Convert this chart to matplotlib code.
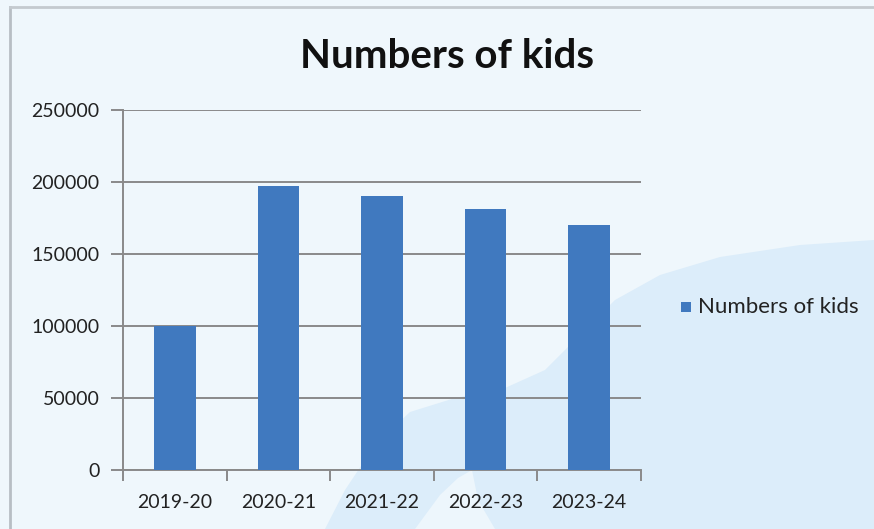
import matplotlib
matplotlib.use("Agg")
import matplotlib.pyplot as plt
from matplotlib.patches import Polygon, Rectangle
import numpy as np

categories = ["2019-20", "2020-21", "2021-22", "2022-23", "2023-24"]
values = [100000, 197000, 190000, 181000, 170000]
yticks = [0, 50000, 100000, 150000, 200000, 250000]
series_name = "Numbers of kids"
title = "Numbers of kids"

FONT = ["Lato", "DejaVu Sans"]
plt.rcParams['font.family'] = FONT

W, H = 874, 529
fig = plt.figure(figsize=(W / 100, H / 100), dpi=100)
bg = "#eff7fc"
fig.patch.set_facecolor(bg)

# background axes in pixel coordinates
bax = fig.add_axes([0, 0, 1, 1], zorder=-1)
bax.set_xlim(0, W)
bax.set_ylim(H, 0)
bax.axis("off")
swoosh = [(325, 529), (345, 490), (375, 445), (410, 412), (455, 398), (505, 388),
          (545, 370), (580, 335), (615, 300), (660, 275), (720, 257), (800, 245),
          (874, 240), (874, 529)]
bax.add_patch(Polygon(swoosh, closed=True, facecolor="#dcedfa", edgecolor="none"))
tooth = [(415, 529), (440, 495), (458, 478), (472, 470), (478, 500), (495, 529)]
bax.add_patch(Polygon(tooth, closed=True, facecolor="#edf6fc", edgecolor="none"))
bax.plot([10, 10], [7, 529], color="#b8bec4", lw=2)
bax.plot([10, 874], [7, 7], color="#c4cacf", lw=2)

left, right, bottom, top = 123, 641, 470, 110
ax = fig.add_axes([left / W, 1 - bottom / H, (right - left) / W, (bottom - top) / H], zorder=1)
ax.patch.set_alpha(0)

x = np.arange(len(categories))
ax.bar(x, values, width=0.4, color="#4079bf", zorder=3, label=series_name)
ax.set_xlim(-0.5, len(categories) - 0.5)
ax.set_ylim(0, 250000)
ax.set_yticks(yticks)
ax.set_yticklabels([str(v) for v in yticks], fontsize=14, color="#222222")
ax.yaxis.grid(True, color="#8a8a8a", lw=1.4, zorder=1)
ax.set_axisbelow(True)
for s in ["top", "right"]:
    ax.spines[s].set_visible(False)
ax.spines["left"].set_color("#8a8a8a")
ax.spines["left"].set_linewidth(1.4)
ax.spines["bottom"].set_color("#8a8a8a")
ax.spines["bottom"].set_linewidth(1.4)
ax.tick_params(axis="y", length=9, width=1.4, color="#8a8a8a", pad=8)
ax.set_xticks(np.arange(-0.5, len(categories), 1.0))
ax.set_xticklabels([])
ax.tick_params(axis="x", which="major", length=8, width=1.4, color="#8a8a8a")
ax.set_xticks(x, minor=True)
ax.set_xticklabels(categories, minor=True, fontsize=14, color="#222222")
ax.tick_params(axis="x", which="minor", length=0, pad=17)

fig.text(447 / W, 1 - 57 / H, title, ha="center", va="center", fontsize=29,
         fontweight="bold", color="#111111")

bax.add_patch(Rectangle((681, 302), 10, 10, facecolor="#4079bf", edgecolor="none"))
bax.text(698, 307, series_name, ha="left", va="center", fontsize=16, color="#222222")

fig.savefig("out.png", dpi=100, facecolor=bg)
